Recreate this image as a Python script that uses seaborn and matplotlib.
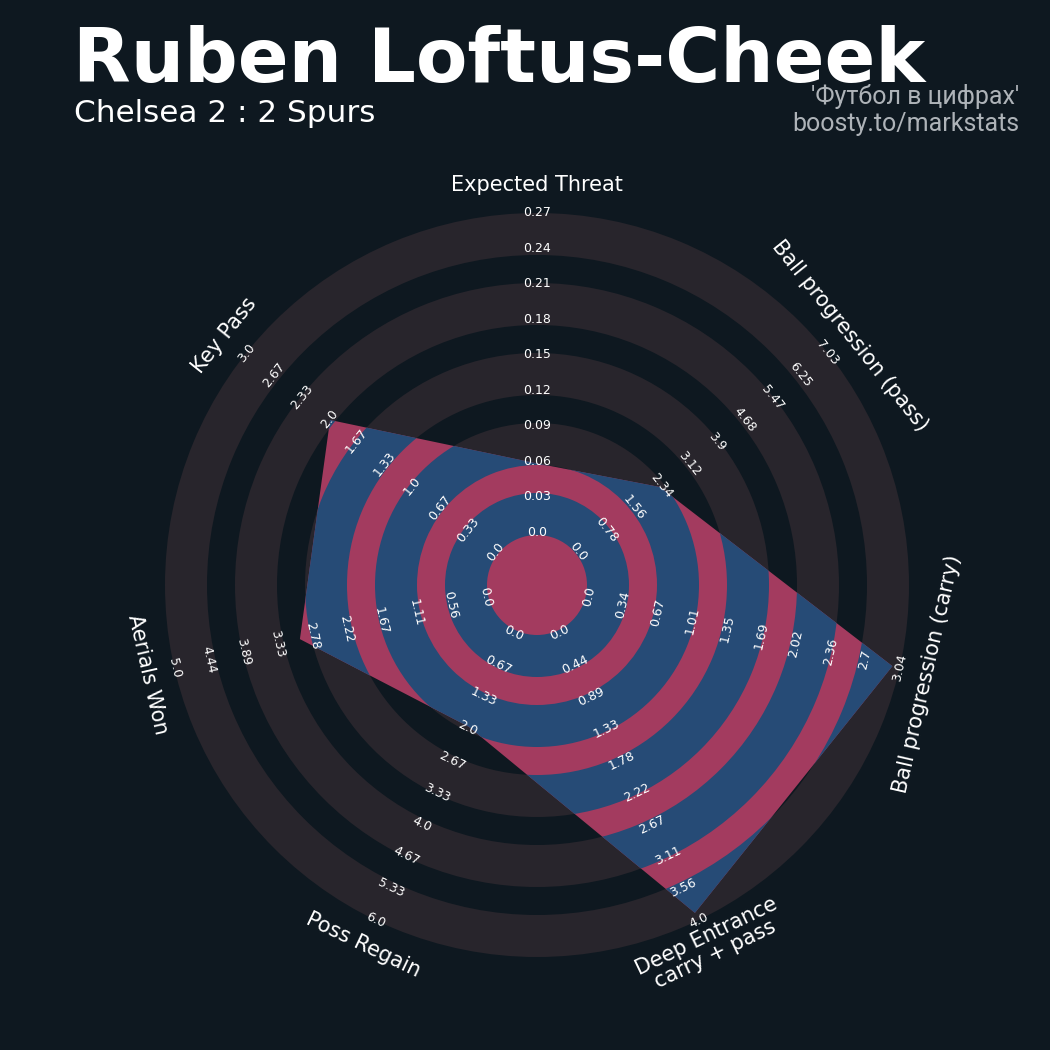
import numpy as np
import matplotlib
matplotlib.use("Agg")
import matplotlib.pyplot as plt
from matplotlib.patches import Wedge, Polygon
import seaborn as sns

# ---- data -------------------------------------------------------------
params = ["Expected Threat", "Ball progression (pass)", "Ball progression (carry)",
          "Deep Entrance\ncarry + pass", "Poss Regain", "Aerials Won", "Key Pass"]
low = [0, 0, 0, 0, 0, 0, 0]
high = [0.27, 7.03, 3.04, 4.0, 6.0, 5.0, 3.0]
values = [0.06, 2.34, 2.97, 3.9, 2.0, 3.0, 2.0]

range_labels = [
    ["0.0", "0.03", "0.06", "0.09", "0.12", "0.15", "0.18", "0.21", "0.24", "0.27"],
    ["0.0", "0.78", "1.56", "2.34", "3.12", "3.9", "4.68", "5.47", "6.25", "7.03"],
    ["0.0", "0.34", "0.67", "1.01", "1.35", "1.69", "2.02", "2.36", "2.7", "3.04"],
    ["0.0", "0.44", "0.89", "1.33", "1.78", "2.22", "2.67", "3.11", "3.56", "4.0"],
    ["0.0", "0.67", "1.33", "2.0", "2.67", "3.33", "4.0", "4.67", "5.33", "6.0"],
    ["0.0", "0.56", "1.11", "1.67", "2.22", "2.78", "3.33", "3.89", "4.44", "5.0"],
    ["0.0", "0.33", "0.67", "1.0", "1.33", "1.67", "2.0", "2.33", "2.67", "3.0"],
]

title = "Ruben Loftus-Cheek"
subtitle = "Chelsea 2 : 2 Spurs"
credit = ["'Футбол в цифрах'", "boosty.to/markstats"]

# ---- style ------------------------------------------------------------
BG = "#0e1820"
RING = "#28252c"
FILL = "#a33b5f"
INNER = "#264b76"
TEXT = "#ffffff"
CREDIT = "#aeb3b8"

sns.set_theme(style="dark", rc={"figure.facecolor": BG, "axes.facecolor": BG})
plt.rcParams["font.family"] = ["DejaVu Sans"]

W = H = 1050
fig = plt.figure(figsize=(W / 100, H / 100), dpi=100)
fig.patch.set_facecolor(BG)

# radar geometry (one unit = one pixel)
CENTER_R = 50
BAND = 42
GAP = 28
N_BANDS = 5
MAX_R = CENTER_R + N_BANDS * BAND + (N_BANDS - 1) * GAP
LABEL_R = 400
HALF = 500
cx, cy = 537 / W, 1 - 585 / H
ax = fig.add_axes([cx - HALF / W, cy - HALF / H, 2 * HALF / W, 2 * HALF / H])
ax.set_xlim(-HALF, HALF)
ax.set_ylim(-HALF, HALF)
ax.set_aspect("equal")
ax.axis("off")

n = len(params)
theta = np.pi / 2 - 2 * np.pi * np.arange(n) / n

# concentric bands
band_inner = [CENTER_R + k * (BAND + GAP) for k in range(N_BANDS)]
for r0 in band_inner:
    ax.add_patch(Wedge((0, 0), r0 + BAND, 0, 360, width=BAND, facecolor=RING,
                       edgecolor="none", zorder=1))

# value polygon
lo = np.array(low, dtype=float)
hi = np.array(high, dtype=float)
vals = np.array(values, dtype=float)
radius = CENTER_R + (vals - lo) / (hi - lo) * (MAX_R - CENTER_R)
verts = np.column_stack([radius * np.cos(theta), radius * np.sin(theta)])
poly = Polygon(verts, closed=True, facecolor=FILL, edgecolor="none", zorder=2)
ax.add_patch(poly)

for r0 in band_inner:
    w = Wedge((0, 0), r0 + BAND, 0, 360, width=BAND, facecolor=INNER,
              edgecolor="none", zorder=3)
    ax.add_patch(w)
    w.set_clip_path(poly)


def text_rotation(t):
    rot = np.degrees(t) - 90
    rot = (rot + 180) % 360 - 180
    if rot > 90:
        rot -= 180
    elif rot < -90:
        rot += 180
    return rot


# range labels on every axis
label_radii = np.linspace(CENTER_R + 3, MAX_R, len(range_labels[0]))
for t, labels in zip(theta, range_labels):
    rot = text_rotation(t)
    for r, lab in zip(label_radii, labels):
        ax.text(r * np.cos(t), r * np.sin(t), lab, rotation=rot,
                rotation_mode="anchor", ha="center", va="center",
                color=TEXT, fontsize=9, zorder=5)

# parameter names
for t, p in zip(theta, params):
    ax.text(LABEL_R * np.cos(t), LABEL_R * np.sin(t), p, rotation=text_rotation(t),
            rotation_mode="anchor", ha="center", va="center", color=TEXT,
            fontsize=15, zorder=5, multialignment="center", linespacing=1.0)

# header
fig.text(73 / W, 1 - 82 / H, title, fontsize=54, fontweight="bold", color=TEXT,
         ha="left", va="baseline")
fig.text(74 / W, 1 - 122 / H, subtitle, fontsize=22.4, color=TEXT,
         ha="left", va="baseline")
fig.text(1019 / W, 1 - 104 / H, credit[0], fontsize=18, color=CREDIT,
         family=["Roboto", "DejaVu Sans"], ha="right", va="baseline")
fig.text(1019 / W, 1 - 131 / H, credit[1], fontsize=18, color=CREDIT,
         family=["Roboto", "DejaVu Sans"], ha="right", va="baseline")

fig.savefig("out.png", dpi=100, facecolor=BG)
